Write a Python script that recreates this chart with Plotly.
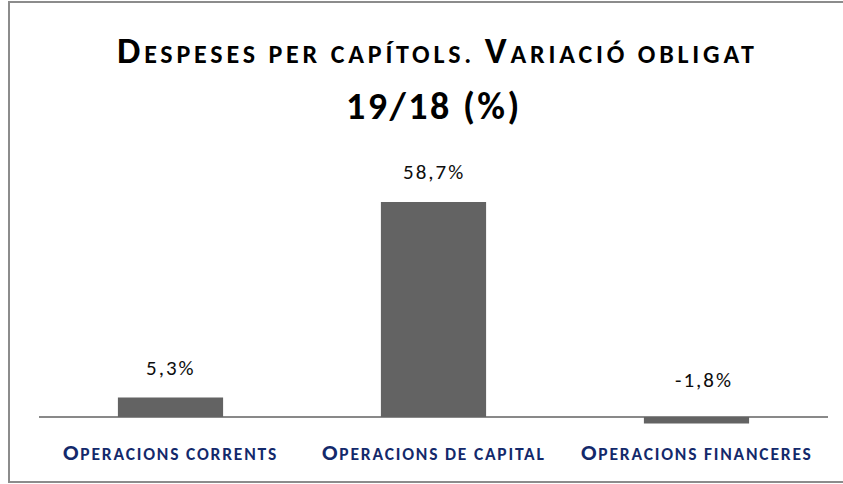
import plotly.graph_objects as go

categories = ["Operacions corrents", "Operacions de capital", "Operacions financeres"]
values = [5.3, 58.7, -1.8]
value_labels = ["5,3%", "58,7%", "-1,8%"]
cat_big = ["O", "O", "O"]
cat_small = ["PERACIONS CORRENTS", "PERACIONS DE CAPITAL", "PERACIONS FINANCERES"]
title_line1 = [("D", True), ("ESPESES PER CAPÍTOLS. ", False), ("V", True), ("ARIACIÓ OBLIGAT", False)]
title_line2 = "19/18 (%)"

FONT = "Carlito, Lato, sans-serif"
W, H = 843, 484
ml, mr, mt, mb = 39, 15, 140, 54
ppu = 215 / 58.7
plot_h = H - mt - mb
y_lo = -(430 - 417) / ppu
y_hi = y_lo + plot_h / ppu


def span(txt, size, ls):
    return f'<span style="font-size:{size}px;letter-spacing:{ls}px">{txt}</span>'


fig = go.Figure()
fig.add_trace(go.Bar(
    x=categories, y=values, width=0.4,
    marker=dict(color="#636363", line=dict(width=0)),
    hoverinfo="skip",
))

anns = []
# title
t1 = "".join(span(s, 37 if b else 26, 3.8) for s, b in title_line1)
anns.append(dict(text=f"<b>{t1}</b>", xref="paper", yref="paper", x=0.5, xshift=4,
                 y=1 + (mt - 50) / plot_h, yanchor="middle", showarrow=False,
                 font=dict(family=FONT, size=37, color="#000000")))
anns.append(dict(text="<b>" + span(title_line2, 38, 2.5) + "</b>", xref="paper", yref="paper",
                 x=0.5, y=1 + (mt - 106) / plot_h, yanchor="middle", showarrow=False,
                 font=dict(family=FONT, size=38, color="#000000")))
# value labels
for c, v, lab in zip(categories, values, value_labels):
    lab_t = span(lab, 21, 2)
    if v >= 0:
        anns.append(dict(text=lab_t, x=c, y=v, xref="x", yref="y", yanchor="middle",
                         yshift=30, showarrow=False,
                         font=dict(family=FONT, size=21, color="#0d0d0d")))
    else:
        anns.append(dict(text=lab_t, x=c, y=0, xref="x", yref="y", yanchor="middle",
                         yshift=37, xshift=7, showarrow=False,
                         font=dict(family=FONT, size=21, color="#0d0d0d")))
# category labels
for c, b, s in zip(categories, cat_big, cat_small):
    txt = "<b>" + span(b, 23, 1.8) + span(s, 17.5, 1.8) + "</b>"
    anns.append(dict(text=txt, x=c, xref="x", yref="paper",
                     y=-(452 - (H - mb)) / plot_h, yanchor="middle", showarrow=False,
                     font=dict(family=FONT, size=17.5, color="#13296b")))

fig.update_layout(
    width=W, height=H,
    margin=dict(l=ml, r=mr, t=mt, b=mb, pad=0),
    paper_bgcolor="white", plot_bgcolor="white",
    showlegend=False,
    annotations=anns,
    xaxis=dict(showticklabels=False, showgrid=False, zeroline=False, showline=False,
               ticks="", range=[-0.5, 2.5]),
    yaxis=dict(range=[y_lo, y_hi], showticklabels=False, showgrid=False,
               zeroline=True, zerolinecolor="#898989", zerolinewidth=2, showline=False,
               ticks=""),
    shapes=[dict(type="rect", xref="paper", yref="paper",
                 x0=(9 - ml) / (W - ml - mr), x1=(850 - ml) / (W - ml - mr),
                 y0=-(482 - (H - mb)) / plot_h, y1=1 + (mt - 2) / plot_h,
                 line=dict(color="#8c8c8c", width=2), layer="below")],
)

fig.write_html("out.html", config={"displayModeBar": False},
               post_script="document.body.style.margin='0';")
